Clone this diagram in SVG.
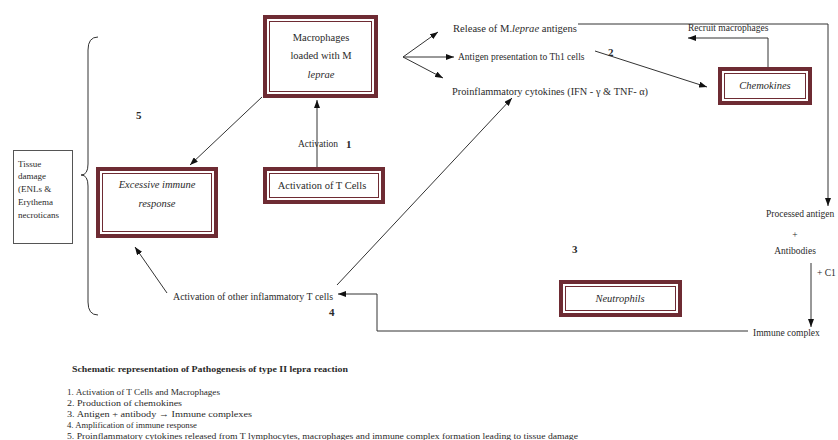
<svg xmlns="http://www.w3.org/2000/svg" width="838" height="440" viewBox="0 0 838 440">
<style>
text{font-family:"Liberation Serif","Times New Roman",serif;fill:#2a2a2a;}
.t{font-size:9.5px;}
.bx{font-size:10.5px;text-anchor:middle;}
.it{font-style:italic;}
.num{font-size:11px;font-weight:bold;}
.leg{font-size:9px;}
.outer{fill:#fff;stroke:#6e2b33;stroke-width:4;}
.inner{fill:none;stroke:#6e2b33;stroke-width:1;}
.ln{fill:none;stroke:#333;stroke-width:1;}
</style>
<defs>
<marker id="ah" viewBox="0 0 8 6" refX="8" refY="3" markerWidth="8" markerHeight="6" markerUnits="userSpaceOnUse" orient="auto">
<path d="M0,0 L8,3 L0,6 z" fill="#111"/>
</marker>
</defs>
<rect width="838" height="440" fill="#fff"/>

<g id="connectors">
<line class="ln" x1="403" y1="57" x2="438" y2="32" marker-end="url(#ah)"/>
<line class="ln" x1="403" y1="57" x2="454" y2="57" marker-end="url(#ah)"/>
<line class="ln" x1="403" y1="57" x2="443" y2="78" marker-end="url(#ah)"/>
<line class="ln" x1="595" y1="51" x2="707" y2="87" marker-end="url(#ah)"/>
<path class="ln" d="M768,67 L768,38 L688,38" marker-end="url(#ah)"/>
<path class="ln" d="M578,24 L828,24 L828,206" marker-end="url(#ah)"/>
<line class="ln" x1="811" y1="263" x2="811" y2="327" marker-end="url(#ah)"/>
<path class="ln" d="M748,331 L377,331 L377,294 L338,294" marker-end="url(#ah)"/>
<line class="ln" x1="317" y1="167" x2="317" y2="100" marker-end="url(#ah)"/>
<line class="ln" x1="262" y1="97" x2="190" y2="165" marker-end="url(#ah)"/>
<line class="ln" x1="167" y1="293" x2="135" y2="247" marker-end="url(#ah)"/>
<line class="ln" x1="337" y1="285" x2="512" y2="98" marker-end="url(#ah)"/>
<path class="ln" d="M98,37 Q88,37 88,50 L88,164 Q88,175 81,175 Q88,175 88,186 L88,302 Q88,315 98,315"/>
</g>

<g id="macrophages">
<rect class="outer" x="265" y="17" width="111" height="79"/>
<rect class="inner" x="269.5" y="21.5" width="102" height="70"/>
<text class="bx" x="321" y="41">Macrophages</text>
<text class="bx" x="321" y="59">loaded with M</text>
<text class="bx it" x="321" y="78">leprae</text>
</g>

<g id="tcells">
<rect class="outer" x="265" y="169" width="118" height="33"/>
<rect class="inner" x="269.5" y="173.5" width="109" height="24"/>
<text class="bx" x="322" y="189" font-size="10">Activation of T Cells</text>
</g>

<g id="excessive">
<rect class="outer" x="98" y="169" width="118" height="67"/>
<rect class="inner" x="102.5" y="173.5" width="109" height="58"/>
<text class="bx it" x="157" y="188">Excessive immune</text>
<text class="bx it" x="157" y="207">response</text>
</g>

<g id="chemokines">
<rect class="outer" x="720" y="69" width="90" height="34"/>
<rect class="inner" x="724.5" y="73.5" width="81" height="25"/>
<text class="bx it" x="765" y="89" font-size="10">Chemokines</text>
</g>

<g id="neutrophils">
<rect class="outer" x="561" y="282" width="119" height="33"/>
<rect class="inner" x="565.5" y="286.5" width="110" height="24"/>
<text class="bx it" x="620" y="302" font-size="10">Neutrophils</text>
</g>

<g id="tissue">
<rect x="13.5" y="150.5" width="59" height="93" fill="#fff" stroke="#555" stroke-width="1"/>
<text class="leg" x="18" y="167">Tissue</text>
<text class="leg" x="18" y="179">damage</text>
<text class="leg" x="18" y="192">(ENLs  &amp;</text>
<text class="leg" x="18" y="205">Erythema</text>
<text class="leg" x="18" y="218">necroticans</text>
</g>

<g id="labels">
<text class="t" x="453" y="32" textLength="124" lengthAdjust="spacingAndGlyphs">Release of M.<tspan font-style="italic">leprae</tspan> antigens</text>
<text class="t" x="458" y="60">Antigen presentation to Th1 cells</text>
<text class="t" x="452" y="95" textLength="196" lengthAdjust="spacingAndGlyphs">Proinflammatory cytokines (IFN - γ &amp; TNF- α)</text>
<text class="t" x="688" y="31">Recruit macrophages</text>
<text class="t" x="298" y="147">Activation</text>
<text class="t" x="173" y="300" textLength="160" lengthAdjust="spacingAndGlyphs">Activation of other inflammatory T cells</text>
<text class="t" x="766" y="217">Processed antigen</text>
<text class="t" x="795" y="238" text-anchor="middle">+</text>
<text class="t" x="795" y="254" text-anchor="middle">Antibodies</text>
<text class="t" x="817" y="276">+ C1</text>
<text class="t" x="753" y="336">Immune complex</text>
<text class="num" x="136" y="119">5</text>
<text class="num" x="346" y="148">1</text>
<text class="num" x="608" y="56">2</text>
<text class="num" x="572" y="253">3</text>
<text class="num" x="329" y="316">4</text>
</g>

<g id="legend">
<text x="72" y="372" font-size="9" font-weight="bold" textLength="276" lengthAdjust="spacingAndGlyphs">Schematic representation of Pathogenesis of type II lepra reaction</text>
<text class="leg" x="67" y="395" textLength="153" lengthAdjust="spacingAndGlyphs">1. Activation of T Cells and Macrophages</text>
<text class="leg" x="67" y="406" textLength="115" lengthAdjust="spacingAndGlyphs">2. Production of chemokines</text>
<text class="leg" x="67" y="417" textLength="185" lengthAdjust="spacingAndGlyphs">3. Antigen + antibody → Immune complexes</text>
<text class="leg" x="67" y="427.5" textLength="130" lengthAdjust="spacingAndGlyphs">4. Amplification  of immune response</text>
<text class="leg" x="67" y="438.5" textLength="511" lengthAdjust="spacingAndGlyphs">5. Proinflammatory cytokines released from T lymphocytes, macrophages and immune complex formation leading to tissue damage</text>
</g>
</svg>
